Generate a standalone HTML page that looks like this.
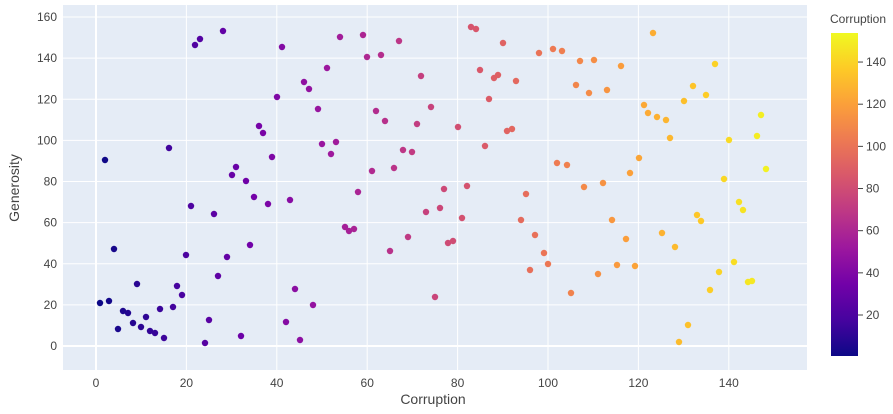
<!DOCTYPE html>
<html><head><meta charset="utf-8">
<style>
html,body{margin:0;padding:0;background:#fff;}
svg{display:block;font-family:"Liberation Sans",Arial,sans-serif;}
</style></head>
<body>
<svg id="s" width="893" height="414" xmlns="http://www.w3.org/2000/svg">
<defs>
<linearGradient id="pl" x1="0" y1="1" x2="0" y2="0">
<stop offset="0" stop-color="#0d0887"/><stop offset="0.111" stop-color="#46039f"/>
<stop offset="0.222" stop-color="#7201a8"/><stop offset="0.333" stop-color="#9c179e"/>
<stop offset="0.444" stop-color="#bd3786"/><stop offset="0.556" stop-color="#d8576b"/>
<stop offset="0.667" stop-color="#ed7953"/><stop offset="0.778" stop-color="#fb9f3a"/>
<stop offset="0.889" stop-color="#fdca26"/><stop offset="1" stop-color="#f0f921"/>
</linearGradient>
</defs>
<rect x="63" y="5" width="744" height="365" fill="#e5ecf6"/>
<g id="grid"></g>
<g id="pts"></g>
<g id="lbl" font-size="12" fill="#444"></g>
<text x="433" y="404" font-size="14" fill="#444" text-anchor="middle">Corruption</text>
<text transform="translate(19,188) rotate(-90)" font-size="14" fill="#444" text-anchor="middle">Generosity</text>
<text x="858" y="23" font-size="12" fill="#444" text-anchor="middle">Corruption</text>
<rect x="831" y="33" width="27" height="323" fill="url(#pl)"/>
</svg>
<script>
var ns="http://www.w3.org/2000/svg";
function el(t,a,p){var e=document.createElementNS(ns,t);for(var k in a)e.setAttribute(k,a[k]);p.appendChild(e);return e;}
var g=document.getElementById('grid'),L=document.getElementById('lbl'),P=document.getElementById('pts');
for(var v=0;v<=140;v+=20){var x=96+v*4.52;el('line',{x1:x,x2:x,y1:5,y2:370,stroke:'#fff','stroke-width':(v==0?2:1)},g);
 var t=el('text',{x:x,y:387,'text-anchor':'middle'},L);t.textContent=v;}
for(var v=0;v<=160;v+=20){var y=346-v*2.056;el('line',{x1:63,x2:807,y1:y,y2:y,stroke:'#fff','stroke-width':(v==0?2:1)},g);
 var t=el('text',{x:57,y:y+4,'text-anchor':'end'},L);t.textContent=v;}
for(var v=20;v<=140;v+=20){var y=315-(v-20)*2.108;el('line',{x1:858,x2:863,y1:y,y2:y,stroke:'#444'},L);
 var t=el('text',{x:866,y:y+4},L);t.textContent=v;}
var stops=[[13,8,135],[70,3,159],[114,1,168],[156,23,158],[189,55,134],[216,87,107],[237,121,83],[251,159,58],[253,202,38],[240,249,33]];
function pl(f){f=Math.max(0,Math.min(1,f))*9;var i=Math.min(8,Math.floor(f)),r=f-i,a=stops[i],b=stops[i+1];
 return 'rgb('+[0,1,2].map(function(k){return Math.round(a[k]+(b[k]-a[k])*r)}).join(',')+')';}
var d=[[100,303],[105,160],[109,301],[114,249],[118,329],[123,311],[128,313],[133,323],[137,284],[141,327],[146,317],[150,331],[155,333],[160,309],[164,338],[169,148],[173,307],[177,286],[182,295],[186,255],[191,206],[195,45],[200,39],[205,343],[209,320],[214,214],[218,276],[223,31],[227,257],[232,175],[236,167],[241,336],[246,181],[250,245],[254,197],[259,126],[263,133],[268,204],[272,157],[277,97],[282,47],[286,322],[290,200],[295,289],[300,340],[304,82],[309,89],[313,305],[318,109],[322,144],[327,68],[331,154],[336,142],[340,37],[345,227],[349,231],[354,229],[358,192],[363,35],[367,57],[372,171],[376,111],[381,55],[385,121],[390,251],[394,168],[399,41],[403,150],[408,237],[412,152],[417,124],[421,76],[426,212],[431,107],[435,297],[440,208],[444,189],[448,243],[453,241],[458,127],[462,218],[467,186],[471,27],[476,29],[480,70],[485,146],[489,99],[494,78],[498,75],[503,43],[507,131],[512,129],[516,81],[521,220],[526,194],[530,270],[535,235],[539,53],[544,253],[548,264],[553,49],[557,163],[562,51],[567,165],[571,293],[576,85],[580,61],[584,187],[589,93],[594,60],[598,274],[603,183],[607,90],[612,220],[617,265],[621,66],[626,239],[630,173],[635,266],[639,158],[644,105],[648,113],[653,33],[657,117],[662,233],[666,120],[670,138],[675,247],[679,342],[684,101],[688,325],[693,86],[697,215],[701,221],[706,95],[710,290],[715,64],[719,272],[724,179],[729,140],[734,262],[739,202],[743,210],[748,282],[752,281],[757,136],[761,115],[766,169]];
d.forEach(function(p){var c=(p[0]-96)/4.52;el('circle',{cx:p[0],cy:p[1],r:3.2,fill:pl((c-1)/150)},P);});
</script>
</body></html>
